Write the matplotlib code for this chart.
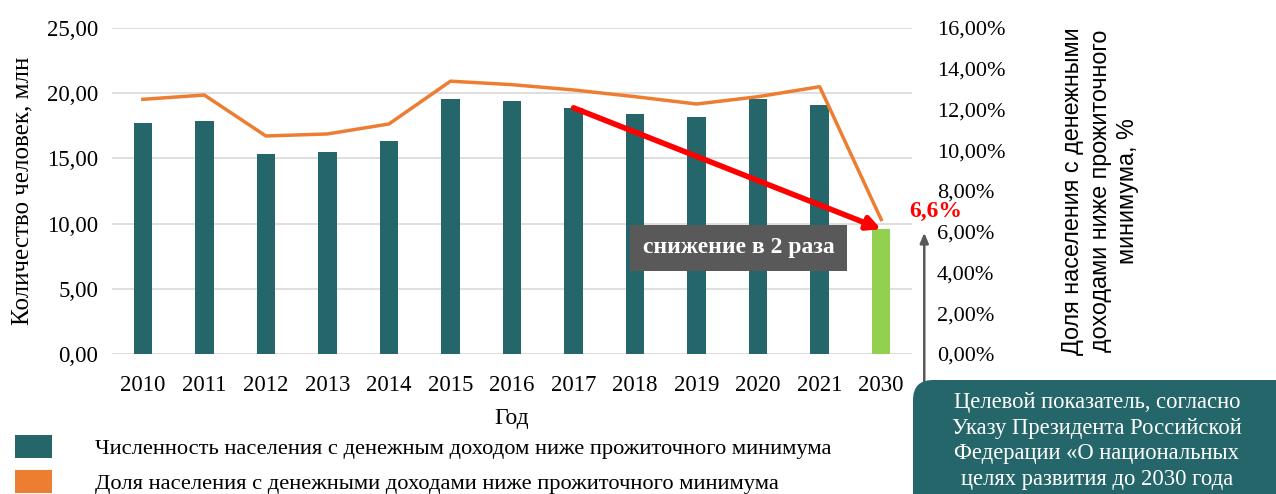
import matplotlib
matplotlib.use("Agg")
import matplotlib.pyplot as plt
from matplotlib.patches import Patch, FancyBboxPatch
from matplotlib.ticker import FuncFormatter
from matplotlib.transforms import IdentityTransform

years = ["2010", "2011", "2012", "2013", "2014", "2015", "2016", "2017",
         "2018", "2019", "2020", "2021", "2030"]
people_mln = [17.7, 17.85, 15.37, 15.47, 16.32, 19.57, 19.42, 18.88,
              18.37, 18.14, 19.57, 19.06, 9.57]
share_pct = [12.5, 12.71, 10.70, 10.80, 11.29, 13.39, 13.22, 12.96,
             12.63, 12.27, 12.63, 13.12, 6.6]
left_ticks = [0, 5, 10, 15, 20, 25]
right_ticks = [0, 2, 4, 6, 8, 10, 12, 14, 16]

TEAL = "#25666A"
GREEN = "#92D050"
ORANGE = "#ED7D31"
SERIF = ["Liberation Serif", "DejaVu Serif"]
SANS = ["Liberation Sans", "DejaVu Sans"]

W, H = 1276, 494
fig = plt.figure(figsize=(W / 100, H / 100), dpi=100)
ax = fig.add_axes([0.0878, 0.2834, 0.6269, 0.6599])
ax2 = ax.twinx()

x = list(range(len(years)))
colors = [TEAL] * (len(years) - 1) + [GREEN]
ax.bar(x, people_mln, width=0.3, color=colors, zorder=2)
ax.set_ylim(0, 25)
ax.set_xlim(-0.5, len(years) - 0.5)
ax.set_yticks(left_ticks)
ax.yaxis.set_major_formatter(FuncFormatter(lambda v, p: f"{v:.2f}".replace(".", ",")))
ax.set_xticks(x)
ax.set_xticklabels(years)
ax.grid(axis="y", color="#d9d9d9", linewidth=1.2, zorder=0)
ax.set_axisbelow(True)
for s in ax.spines.values():
    s.set_visible(False)
for s in ax2.spines.values():
    s.set_visible(False)
ax.tick_params(length=0, labelsize=16.5, pad=10)
for lab in ax.get_xticklabels() + ax.get_yticklabels():
    lab.set_family(SERIF)
ax.tick_params(axis="x", pad=15)
ax.set_xlabel("Год", family=SERIF, fontsize=17, labelpad=9)
ax.set_ylabel("Количество человек, млн", family=SERIF, fontsize=18, labelpad=10)

ax2.plot(x, share_pct, color=ORANGE, linewidth=2.5, zorder=3)
ax2.set_ylim(0, 16)
ax2.set_yticks(right_ticks)
ax2.yaxis.set_major_formatter(FuncFormatter(lambda v, p: f"{v:.2f}%".replace(".", ",")))
ax2.tick_params(length=0, labelsize=16, pad=18)
for lab in ax2.get_yticklabels():
    lab.set_family(SERIF)
ax2.set_ylabel("Доля населения с денежными\nдоходами ниже прожиточного\nминимума, %",
               family=SANS, fontsize=16.8, labelpad=40, linespacing=1.25)

# red arrow from 2017 bar to 2030 bar
ax.annotate("", xy=(12, people_mln[12]), xytext=(7, people_mln[7]),
            arrowprops=dict(arrowstyle="-|>,head_length=0.8,head_width=0.4",
                            color="#FF0000", lw=4, shrinkA=0, shrinkB=0),
            zorder=5)
ax.text(12.88, 10.9, "6,6%", color="#FF0000", fontsize=17, fontweight="bold",
        family=SERIF, ha="center", va="center", zorder=6, clip_on=False)
ax.text(9.68, 8.13, "снижение в 2 раза", color="white", fontsize=17,
        fontweight="bold", family=SERIF, ha="center", va="center", zorder=6,
        bbox=dict(boxstyle="square,pad=0.55", facecolor="#595959", edgecolor="none"))

# grey vertical arrow
ax.annotate("", xy=(12.70, 9.3), xytext=(12.70, -4.7),
            arrowprops=dict(arrowstyle="-|>,head_length=0.6,head_width=0.25",
                            color="#595959", lw=1.8, shrinkA=0, shrinkB=0),
            annotation_clip=False, zorder=5)

# target box (pixel coordinates, origin bottom-left)
box = FancyBboxPatch((913, -30), 400, (H - 380) + 30,
                     boxstyle="round,pad=0,rounding_size=20",
                     transform=IdentityTransform(),
                     facecolor=TEAL, edgecolor="none")
fig.add_artist(box)
fig.text(1097 / W, 1 - 441 / H, "Целевой показатель, согласно\nУказу Президента Российской\nФедерации «О национальных\nцелях развития до 2030 года",
         color="white", fontsize=16.3, family=SERIF, ha="center", va="center",
         linespacing=1.3)

handles = [Patch(facecolor=TEAL, edgecolor="none"), Patch(facecolor=ORANGE, edgecolor="none")]
labels = ["Численность населения с денежным доходом ниже прожиточного минимума",
          "Доля населения с денежными доходами ниже прожиточного минимума"]
fig.legend(handles, labels, loc="lower left", bbox_to_anchor=(0.012, 0.0),
           frameon=False, prop={"family": SERIF, "size": 16.2},
           borderpad=0, borderaxespad=0,
           handlelength=1.64, handleheight=1.15, handletextpad=1.9, labelspacing=0.5)

fig.savefig("out.png", dpi=100)
